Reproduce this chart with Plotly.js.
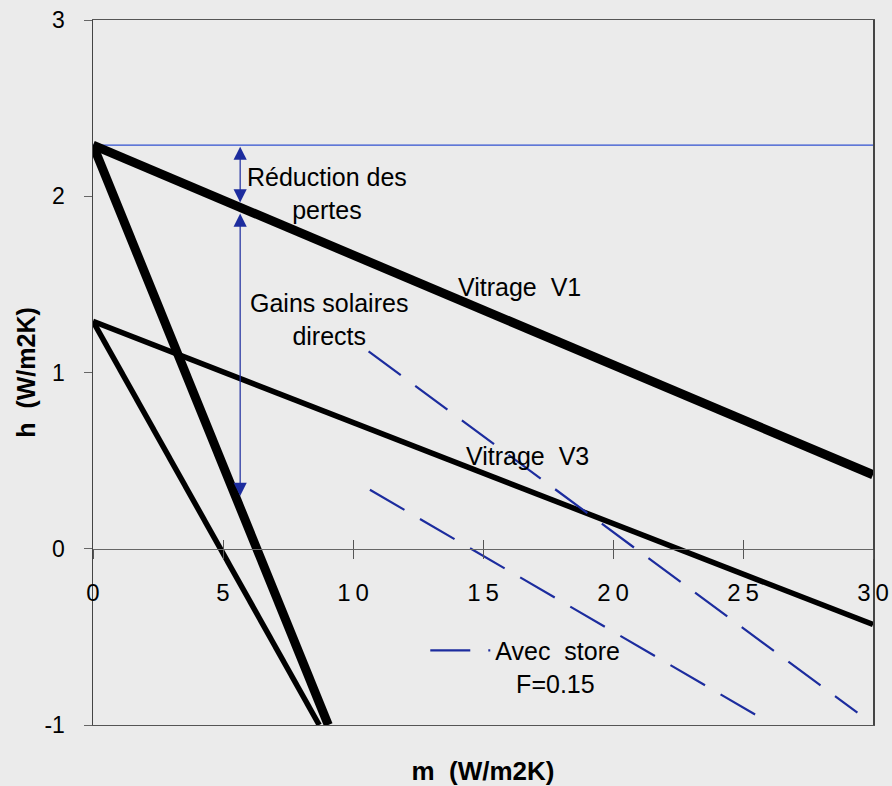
<!DOCTYPE html>
<html>
<head>
<meta charset="utf-8">
<script src="https://cdn.plot.ly/plotly-3.0.1.min.js"></script>
<style>
  html, body { margin: 0; padding: 0; background: #ebebeb; }
  #chart { width: 892px; height: 786px; }
</style>
</head>
<body>
<div id="chart"></div>
<script>
// ---- data ----
const v1X = [0, 30];
const v1Y = [2.29, 0.42];
const v1SteepX = [0, 9.05];
const v1SteepY = [2.29, -1.0];
const v3X = [0, 30];
const v3Y = [1.29, -0.43];
const v3SteepX = [0, 8.7];
const v3SteepY = [1.29, -1.0];
const refX = [0, 30];
const refY = [2.29, 2.29];
const store1X = [10.6, 29.4];
const store1Y = [1.12, -0.93];
const store2X = [10.65, 25.75];
const store2Y = [0.335, -0.965];
const arrowX = 5.66;
const arrowLoss = [2.29, 1.965];
const arrowGain = [1.91, 0.30];
const xTicks = [0, 5, 10, 15, 20, 25, 30];
const xTickText = ['0', '5', '1\u20090', '1\u20095', '2\u20090', '2\u20095', '3\u20090'];
const yTicks = [-1, 0, 1, 2, 3];
const yTickText = ['-1', '0', '1', '2', '3'];

const FONT = 'Liberation Sans, Arial, Helvetica, sans-serif';
const BLACK = '#000000';
const DBLUE = '#1c2c9e';
const BLUE = '#3050d0';

const traces = [
  {x: refX, y: refY, xaxis: 'x', yaxis: 'y', mode: 'lines', line: {color: BLUE, width: 1.3}, showlegend: false},
  {x: v1X, y: v1Y, xaxis: 'x2', yaxis: 'y', mode: 'lines', line: {color: BLACK, width: 9}, showlegend: false},
  {x: v1SteepX, y: v1SteepY, xaxis: 'x2', yaxis: 'y', mode: 'lines', line: {color: BLACK, width: 9}, showlegend: false},
  {x: v3X, y: v3Y, xaxis: 'x2', yaxis: 'y', mode: 'lines', line: {color: BLACK, width: 5.5}, showlegend: false},
  {x: v3SteepX, y: v3SteepY, xaxis: 'x2', yaxis: 'y', mode: 'lines', line: {color: BLACK, width: 5.5}, showlegend: false},
  {x: store1X, y: store1Y, xaxis: 'x2', yaxis: 'y', mode: 'lines',
   name: 'Avec\u00a0\u00a0store<br>\u00a0\u00a0\u00a0F=0.15',
   line: {color: DBLUE, width: 2.2, dash: '40px,18px'}, showlegend: true},
  {x: store2X, y: store2Y, xaxis: 'x3', yaxis: 'y', mode: 'lines', line: {color: DBLUE, width: 2.2, dash: '40px,18px'}, showlegend: false}
];

function arrow(y0, y1) {
  return {
    x: arrowX, y: y1, ax: arrowX, ay: y0,
    xref: 'x2', yref: 'y', axref: 'x2', ayref: 'y',
    text: '', showarrow: true, arrowside: 'end+start',
    arrowhead: 2, startarrowhead: 2, arrowsize: 2.2, startarrowsize: 2.2,
    arrowwidth: 1.2, arrowcolor: DBLUE, standoff: 0, startstandoff: 0
  };
}

const labelFont = {family: FONT, size: 25, color: '#000'};

const layout = {
  width: 892, height: 786,
  margin: {l: 93, r: 19, t: 20, b: 61, pad: 0},
  paper_bgcolor: '#ebebeb',
  plot_bgcolor: '#ebebeb',
  font: {family: FONT, color: '#000'},
  showlegend: true,
  legend: {
    x: 0.426, y: 0.138, xanchor: 'left', yanchor: 'top',
    bgcolor: 'rgba(0,0,0,0)', borderwidth: 0,
    font: {family: FONT, size: 25, color: '#000'},
    valign: 'top', itemwidth: 60
  },
  xaxis: {
    range: [0, 30], anchor: 'y', showline: true, mirror: true,
    linecolor: '#555', linewidth: 1.2,
    ticks: '', showticklabels: false, showgrid: false, zeroline: false,
    title: {text: 'm\u00a0\u00a0(W/m2K)', font: {family: FONT, size: 26, weight: 700, color: '#000'}, standoff: 36}
  },
  xaxis2: {
    range: [0, 30], overlaying: 'x', anchor: 'free', position: 0.25,
    showline: true, linecolor: '#666', linewidth: 1,
    ticks: 'inside', ticklen: 9, tickcolor: '#555', tickwidth: 1,
    tickvals: xTicks, ticktext: xTickText,
    tickfont: {family: FONT, size: 24, color: '#000'},
    ticklabelstandoff: 22,
    showgrid: false, zeroline: false
  },
  xaxis3: {
    range: [0, 30], overlaying: 'x', anchor: 'free', position: 0.25,
    showline: false, ticks: 'outside', ticklen: 9, tickcolor: '#555', tickwidth: 1,
    tickvals: xTicks, showticklabels: false, showgrid: false, zeroline: false
  },
  yaxis: {
    range: [-1, 3], showline: true, mirror: true,
    linecolor: '#444', linewidth: 1.5,
    ticks: 'outside', ticklen: 8, tickcolor: '#666', tickwidth: 1,
    tickvals: yTicks, ticktext: yTickText,
    tickfont: {family: FONT, size: 23, color: '#000'},
    ticklabelstandoff: 14,
    showgrid: false, zeroline: false,
    title: {text: 'h\u00a0\u00a0(W/m2K)', font: {family: FONT, size: 25, weight: 700, color: '#000'}, standoff: 1}
  },
  annotations: [
    arrow(arrowLoss[0], arrowLoss[1]),
    arrow(arrowGain[0], arrowGain[1]),
    {x: 8.99, y: 2.015, xref: 'x2', yref: 'y', text: 'Réduction des<br>pertes', showarrow: false, font: labelFont, align: 'center'},
    {x: 9.09, y: 1.30, xref: 'x2', yref: 'y', text: 'Gains solaires<br>directs', showarrow: false, font: labelFont, align: 'center'},
    {x: 16.4, y: 1.485, xref: 'x2', yref: 'y', text: 'Vitrage\u00a0\u00a0V1', showarrow: false, font: labelFont},
    {x: 16.71, y: 0.524, xref: 'x2', yref: 'y', text: 'Vitrage\u00a0\u00a0V3', showarrow: false, font: labelFont}
  ]
};

Plotly.newPlot('chart', traces, layout, {displayModeBar: false, staticPlot: true});
</script>
</body>
</html>
